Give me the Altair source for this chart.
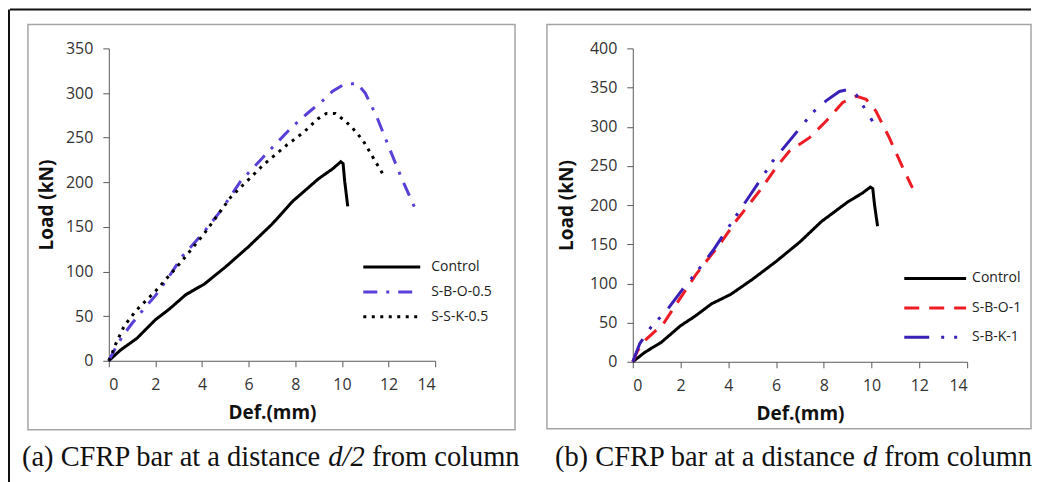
import altair as alt
import pandas as pd

# ---------------- data ----------------
control_x = [0, 0.5, 1.2, 2.0, 2.6, 3.3, 4.1, 5.0, 6.0, 7.0, 7.9, 9.0, 9.6, 9.95, 10.05, 10.12, 10.25]
control_y = [0, 12, 25, 46, 58, 74, 86, 105, 128, 153, 179, 204, 215, 223, 221, 201, 173]

sbo05_x = [0, 0.3, 0.6, 1.0, 1.5, 2.0, 2.6, 3.15, 3.6, 4.1, 4.8, 5.65, 6.8, 7.9, 8.6, 9.2, 9.6, 10.05, 10.65, 11.0, 11.5, 12.1, 12.6, 13.15]
sbo05_y = [0, 15, 28, 42, 58, 73, 95, 117, 130, 145, 168, 201, 233, 263, 279, 292, 302, 309, 311, 300, 273, 234, 202, 170]

ssk05_x = [0, 0.15, 0.3, 0.66, 1.16, 2.0, 3.08, 4.08, 5.22, 6.65, 7.65, 8.36, 8.96, 9.33, 9.72, 10.07, 10.38, 10.9, 11.33, 11.74]
ssk05_y = [0, 9, 19, 39, 56, 78, 110, 142, 183, 220, 242, 256, 271, 277, 277, 270, 263, 247, 228, 210]

sbo1_x = [0, 0.2, 0.57, 1.27, 1.83, 2.66, 3.64, 4.33, 5.31, 6.0, 6.56, 7.4, 8.09, 8.79, 9.35, 9.77, 10.18, 10.74, 11.3, 11.71]
sbo1_y = [0, 14, 29, 48, 74, 112, 150, 180, 218, 248, 269, 286, 307, 331, 339, 335, 320, 286, 248, 222]

sbk1_x = [0, 0.29, 0.78, 1.41, 2.1, 2.66, 3.36, 4.19, 5.03, 5.86, 6.56, 7.53, 8.09, 8.65, 9.07, 9.35, 9.7, 10.04]
sbk1_y = [0, 23, 45, 65, 93, 114, 142, 180, 218, 256, 282, 318, 333, 345, 348, 341, 324, 307]

x_ticks = [0, 2, 4, 6, 8, 10, 12, 14]
y_ticks_a = [0, 50, 100, 150, 200, 250, 300, 350]
y_ticks_b = [0, 50, 100, 150, 200, 250, 300, 350, 400]

series_a = ["Control", "S-B-O-0.5", "S-S-K-0.5"]
series_b = ["Control", "S-B-O-1", "S-B-K-1"]
colors_a = ["#000000", "#5b3fd9", "#000000"]
colors_b = ["#000000", "#ee1c25", "#3a1fb8"]
dashes_a = [[1, 0], [14, 9, 3, 9], [3, 5.5]]
dashes_b = [[1, 0], [15, 10], [25, 12, 3, 10, 3, 12]]

cap_a = ["(a) CFRP bar at a distance", "d/2", "from column"]
cap_b = ["(b) CFRP bar at a distance", "d", "from column"]
cap_styles = ["normal", "italic", "normal"]


def frame(xs, ys, names):
    rows = []
    for name, xv, yv in zip(names, xs, ys):
        for i, (a, b) in enumerate(zip(xv, yv)):
            rows.append({"series": name, "def": a, "load": b, "idx": i})
    return pd.DataFrame(rows)


df_a = frame([control_x, sbo05_x, ssk05_x], [control_y, sbo05_y, ssk05_y], series_a)
df_b = frame([control_x, sbo1_x, sbk1_x], [control_y, sbo1_y, sbk1_y], series_b)

LAB_FONT = "Open Sans"
CAP_FONT = "Liberation Serif"
one = pd.DataFrame({"k": [0]})


def panel(df, names, colors, dashes, ymax, yticks, w, h, leg, box, cap, cap_x,
          ytitle_pad, outer=False):
    leg_x, leg_y, leg_row, leg_size, leg_off = leg
    legend = alt.Legend(
        title=None, orient="none", legendX=leg_x, legendY=leg_y,
        symbolType="M-4,0H4", symbolSize=leg_size, symbolStrokeWidth=3,
        labelFont=LAB_FONT, labelFontSize=14, labelColor="#222222",
        labelOffset=leg_off, rowPadding=leg_row, padding=0,
    )
    lines = alt.Chart(df).mark_line(strokeWidth=3, clip=False).encode(
        x=alt.X("def:Q", scale=alt.Scale(domain=[0, 14], nice=False),
                axis=alt.Axis(values=x_ticks, title="Def.(mm)", titlePadding=11)),
        y=alt.Y("load:Q", scale=alt.Scale(domain=[0, ymax], nice=False),
                axis=alt.Axis(values=yticks, title="Load (kN)", titlePadding=ytitle_pad)),
        color=alt.Color("series:N", scale=alt.Scale(domain=names, range=colors), legend=legend),
        strokeDash=alt.StrokeDash("series:N", scale=alt.Scale(domain=names, range=dashes), legend=legend),
        order="idx:Q",
    )
    box_layer = alt.Chart(one).mark_rect(filled=False, stroke="#a5a5a5", strokeWidth=1.5).encode(
        x=alt.value(box[0]), x2=alt.value(box[1]), y=alt.value(box[2]), y2=alt.value(box[3])
    )
    cap_layers = []
    for text, xx, st in zip(cap, cap_x, cap_styles):
        cap_layers.append(
            alt.Chart(one).mark_text(font=CAP_FONT, fontSize=28.5, fontStyle=st, align="left",
                                     baseline="alphabetic", color="#111111").encode(
                x=alt.value(xx), y=alt.value(418), text=alt.value(text))
        )
    layers = [box_layer]
    if outer:
        layers.append(alt.Chart(one).mark_rule(color="#111111", strokeWidth=2).encode(
            x=alt.value(-99), x2=alt.value(924), y=alt.value(-39), y2=alt.value(-39)))
        layers.append(alt.Chart(one).mark_rule(color="#111111", strokeWidth=2).encode(
            x=alt.value(-100), x2=alt.value(-100), y=alt.value(-39), y2=alt.value(435)))
    layers += [lines] + cap_layers
    return alt.layer(*layers).properties(width=w, height=h)


left = panel(df_a, series_a, colors_a, dashes_a, 350, y_ticks_a, 327, 313,
             (274.5, 210, 9, 203, 30.5), (-81, 407, -24, 382),
             cap_a, (-87, 220, 263.6), 9, outer=True)
right = panel(df_b, series_b, colors_b, dashes_b, 400, y_ticks_b, 335, 314,
              (293.5, 221, 12.5, 240, 27.5), (-86, 399, -24, 381),
              cap_b, (-78, 230.7, 252), 13)

chart = alt.hconcat(left, right, spacing=198, bounds="flush").resolve_scale(
    color="independent", strokeDash="independent"
).resolve_legend(
    color="independent", strokeDash="independent"
).properties(
    padding=0, background="white"
).configure_view(stroke=None).configure_axis(
    labelFont=LAB_FONT, labelFontSize=16, labelColor="#333333", labelPadding=10,
    titleFont=LAB_FONT, titleFontSize=19, titleFontWeight="bold", titleColor="#111111",
    domainColor="#595959", tickColor="#595959", tickSize=6, grid=False,
)

chart.save("out.html", embed_options={"renderer": "svg", "actions": False})
